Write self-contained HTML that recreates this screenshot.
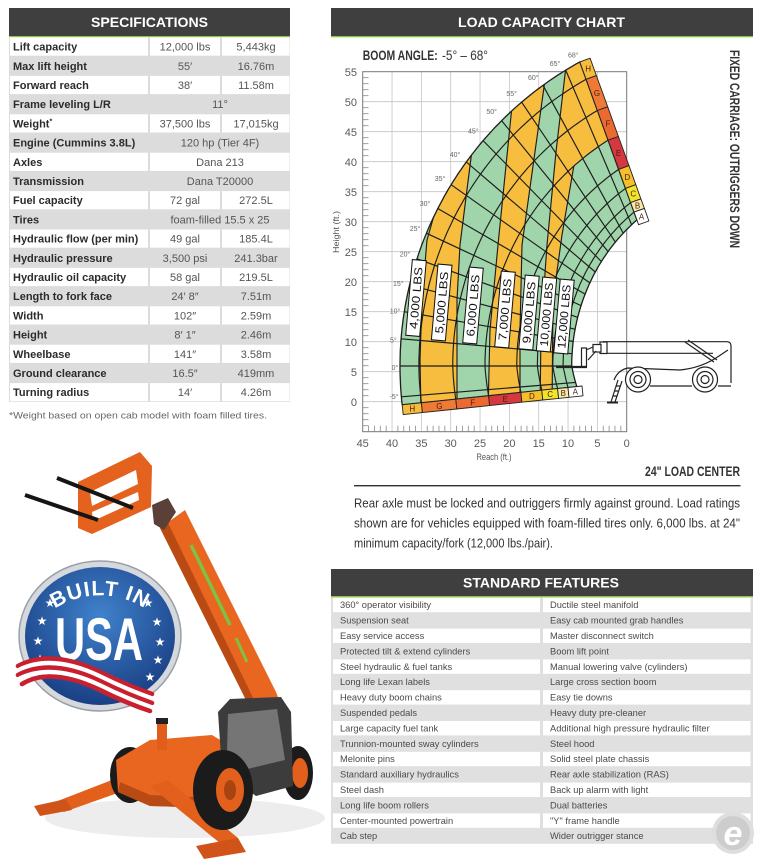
<!DOCTYPE html>
<html><head><meta charset="utf-8">
<style>
html,body{margin:0;padding:0;background:#fff;}
body{width:760px;height:859px;overflow:hidden;}
svg{display:block;font-family:"Liberation Sans",sans-serif;}
.lb{font-weight:bold;font-size:11px;fill:#2b2b2b;}
.v{font-size:11px;fill:#555;text-anchor:middle;}
.f{font-size:9.3px;fill:#4a4a4a;}
.tk{font-size:11px;fill:#5a5a5a;}
.ang{font-size:7px;fill:#666;text-anchor:middle;}
.lt{font-size:8px;fill:#4a1c10;text-anchor:middle;}
.lbs{font-family:"Liberation Sans Narrow","Liberation Sans",sans-serif;font-size:11.5px;fill:#111;text-anchor:middle;}
.cond{font-family:"Liberation Sans Narrow","Liberation Sans",sans-serif;}
</style></head>
<body>
<svg id="s" width="760" height="859" viewBox="0 0 760 859" xmlns="http://www.w3.org/2000/svg">
<defs>
<clipPath id="fc"><polygon id="fcp" points="0,0"/></clipPath>
<radialGradient id="bg1" cx="0.5" cy="0.35" r="0.7">
<stop offset="0" stop-color="#3f82cc"/><stop offset="1" stop-color="#173a7f"/></radialGradient>
</defs>

<!-- ===== SPECIFICATIONS ===== -->
<rect x="9" y="8" width="281" height="28" fill="#3f3f3f"/>
<rect x="9" y="36" width="281" height="1.3" fill="#8cc63e"/>
<text x="149.5" y="27" fill="#fff" font-weight="bold" font-size="14" text-anchor="middle" textLength="117" lengthAdjust="spacingAndGlyphs">SPECIFICATIONS</text>
<rect x="9" y="37" width="281" height="365" fill="#dcdcdc"/>
<g fill="#fff">
<rect x="10" y="37.5" width="138" height="18.2"/><rect x="150" y="37.5" width="70" height="18.2"/><rect x="222" y="37.5" width="67.5" height="18.2"/>
<rect x="10" y="75.9" width="138" height="18.2"/><rect x="150" y="75.9" width="70" height="18.2"/><rect x="222" y="75.9" width="67.5" height="18.2"/>
<rect x="10" y="114.3" width="138" height="18.2"/><rect x="150" y="114.3" width="70" height="18.2"/><rect x="222" y="114.3" width="67.5" height="18.2"/>
<rect x="10" y="152.7" width="138" height="18.2"/><rect x="150" y="152.7" width="139.5" height="18.2"/>
<rect x="10" y="191.1" width="138" height="18.2"/><rect x="150" y="191.1" width="70" height="18.2"/><rect x="222" y="191.1" width="67.5" height="18.2"/>
<rect x="10" y="229.5" width="138" height="18.2"/><rect x="150" y="229.5" width="70" height="18.2"/><rect x="222" y="229.5" width="67.5" height="18.2"/>
<rect x="10" y="267.9" width="138" height="18.2"/><rect x="150" y="267.9" width="70" height="18.2"/><rect x="222" y="267.9" width="67.5" height="18.2"/>
<rect x="10" y="306.3" width="138" height="18.2"/><rect x="150" y="306.3" width="70" height="18.2"/><rect x="222" y="306.3" width="67.5" height="18.2"/>
<rect x="10" y="344.7" width="138" height="18.2"/><rect x="150" y="344.7" width="70" height="18.2"/><rect x="222" y="344.7" width="67.5" height="18.2"/>
<rect x="10" y="383.1" width="138" height="18.2"/><rect x="150" y="383.1" width="70" height="18.2"/><rect x="222" y="383.1" width="67.5" height="18.2"/>
</g>
<g>
<text class="lb" x="13" y="50.6">Lift capacity</text><text class="v" x="185" y="50.6">12,000 lbs</text><text class="v" x="256" y="50.6">5,443kg</text>
<text class="lb" x="13" y="69.8">Max lift height</text><text class="v" x="185" y="69.8">55′</text><text class="v" x="256" y="69.8">16.76m</text>
<text class="lb" x="13" y="89">Forward reach</text><text class="v" x="185" y="89">38′</text><text class="v" x="256" y="89">11.58m</text>
<text class="lb" x="13" y="108.2">Frame leveling L/R</text><text class="v" x="220" y="108.2">11°</text>
<text class="lb" x="13" y="127.4">Weight<tspan font-size="7" dy="-4">*</tspan></text><text class="v" x="185" y="127.4">37,500 lbs</text><text class="v" x="256" y="127.4">17,015kg</text>
<text class="lb" x="13" y="146.6">Engine (Cummins 3.8L)</text><text class="v" x="220" y="146.6">120 hp (Tier 4F)</text>
<text class="lb" x="13" y="165.8">Axles</text><text class="v" x="220" y="165.8">Dana 213</text>
<text class="lb" x="13" y="185">Transmission</text><text class="v" x="220" y="185">Dana T20000</text>
<text class="lb" x="13" y="204.2">Fuel capacity</text><text class="v" x="185" y="204.2">72 gal</text><text class="v" x="256" y="204.2">272.5L</text>
<text class="lb" x="13" y="223.4">Tires</text><text class="v" x="220" y="223.4">foam-filled 15.5 x 25</text>
<text class="lb" x="13" y="242.6">Hydraulic flow (per min)</text><text class="v" x="185" y="242.6">49 gal</text><text class="v" x="256" y="242.6">185.4L</text>
<text class="lb" x="13" y="261.8">Hydraulic pressure</text><text class="v" x="185" y="261.8">3,500 psi</text><text class="v" x="256" y="261.8">241.3bar</text>
<text class="lb" x="13" y="281">Hydraulic oil capacity</text><text class="v" x="185" y="281">58 gal</text><text class="v" x="256" y="281">219.5L</text>
<text class="lb" x="13" y="300.2">Length to fork face</text><text class="v" x="185" y="300.2">24′ 8″</text><text class="v" x="256" y="300.2">7.51m</text>
<text class="lb" x="13" y="319.4">Width</text><text class="v" x="185" y="319.4">102″</text><text class="v" x="256" y="319.4">2.59m</text>
<text class="lb" x="13" y="338.6">Height</text><text class="v" x="185" y="338.6">8′ 1″</text><text class="v" x="256" y="338.6">2.46m</text>
<text class="lb" x="13" y="357.8">Wheelbase</text><text class="v" x="185" y="357.8">141″</text><text class="v" x="256" y="357.8">3.58m</text>
<text class="lb" x="13" y="377">Ground clearance</text><text class="v" x="185" y="377">16.5″</text><text class="v" x="256" y="377">419mm</text>
<text class="lb" x="13" y="396.2">Turning radius</text><text class="v" x="185" y="396.2">14′</text><text class="v" x="256" y="396.2">4.26m</text>
</g>
<text x="9" y="418.5" font-size="9.5" fill="#666" textLength="258" lengthAdjust="spacingAndGlyphs">*Weight based on open cab model with foam filled tires.</text>

<!-- ===== LOAD CAPACITY CHART ===== -->
<rect x="331" y="8" width="422" height="28" fill="#3f3f3f"/>
<rect x="331" y="36" width="422" height="1.3" fill="#8cc63e"/>
<text x="541.5" y="27" fill="#fff" font-weight="bold" font-size="14" text-anchor="middle" textLength="167" lengthAdjust="spacingAndGlyphs">LOAD CAPACITY CHART</text>

<text class="cond" x="362.7" y="60" font-size="14" font-weight="bold" fill="#333" textLength="75" lengthAdjust="spacingAndGlyphs">BOOM ANGLE:</text>
<text class="cond" x="442" y="60" font-size="14" fill="#333" textLength="46" lengthAdjust="spacingAndGlyphs">-5° – 68°</text>

<g id="grid" stroke="#c4c4c4" stroke-width="0.8"></g>
<rect x="362.7" y="71.7" width="264" height="360" fill="none" stroke="#777" stroke-width="1"/>
<g id="ticks" stroke="#888" stroke-width="0.8"></g>
<g class="tk" text-anchor="end">
<text x="357" y="76">55</text><text x="357" y="106">50</text><text x="357" y="136">45</text><text x="357" y="166">40</text>
<text x="357" y="196">35</text><text x="357" y="226">30</text><text x="357" y="256">25</text><text x="357" y="286">20</text>
<text x="357" y="316">15</text><text x="357" y="346">10</text><text x="357" y="376">5</text><text x="357" y="406">0</text>
</g>
<g class="tk" text-anchor="middle">
<text x="362.7" y="447">45</text><text x="392" y="447">40</text><text x="421.4" y="447">35</text><text x="450.7" y="447">30</text>
<text x="480" y="447">25</text><text x="509.4" y="447">20</text><text x="538.7" y="447">15</text><text x="568" y="447">10</text>
<text x="597.4" y="447">5</text><text x="626.7" y="447">0</text>
</g>
<text x="494" y="460" font-size="9" fill="#555" text-anchor="middle" textLength="35" lengthAdjust="spacingAndGlyphs">Reach (ft.)</text>
<text transform="translate(339,232) rotate(-90)" x="0" y="0" font-size="8" fill="#555" text-anchor="middle" textLength="42" lengthAdjust="spacingAndGlyphs">Height (ft.)</text>

<g id="fan"></g>

<g class="lt">
<text x="412.3" y="411.6">H</text><text x="439.4" y="408.8">G</text><text x="472.7" y="405.3">F</text><text x="505.3" y="401.8">E</text>
<text x="531.9" y="399.1">D</text><text x="550.2" y="397.1">C</text><text x="563.3" y="395.8">B</text><text x="575.3" y="394.5">A</text>
<text x="588.1" y="71.6">H</text><text x="597" y="96">G</text><text x="607.9" y="126.3">F</text><text x="618.6" y="155.8">E</text>
<text x="627.3" y="179.9">D</text><text x="633.3" y="196.4">C</text><text x="637.6" y="208.3">B</text><text x="641.6" y="219.4">A</text>
</g>

<g class="ang">
<text x="573.3" y="57.5">68°</text><text x="555" y="65.8">65°</text><text x="533.3" y="79.8">60°</text><text x="511.7" y="95.8">55°</text>
<text x="491.7" y="114.2">50°</text><text x="473.3" y="133.5">45°</text><text x="455" y="156.8">40°</text><text x="440" y="180.8">35°</text>
<text x="425" y="205.8">30°</text><text x="415" y="230.8">25°</text><text x="405" y="256.5">20°</text><text x="398.3" y="285.8">15°</text>
<text x="395" y="313.5">10°</text><text x="393.3" y="342.5">5°</text><text x="395" y="370.2">0°</text><text x="394" y="399.2">-5°</text>
</g>

<g>
<g transform="translate(416,298) rotate(5)"><rect x="-7" y="-38" width="14" height="76" fill="#fff" stroke="#111" stroke-width="1"/><text class="lbs" transform="rotate(-90)" x="0" y="4" textLength="62" lengthAdjust="spacingAndGlyphs">4,000 LBS</text></g>
<g transform="translate(441.7,302.5) rotate(5)"><rect x="-7" y="-38" width="14" height="76" fill="#fff" stroke="#111" stroke-width="1"/><text class="lbs" transform="rotate(-90)" x="0" y="4" textLength="62" lengthAdjust="spacingAndGlyphs">5,000 LBS</text></g>
<g transform="translate(473,305.5) rotate(5)"><rect x="-7" y="-38" width="14" height="76" fill="#fff" stroke="#111" stroke-width="1"/><text class="lbs" transform="rotate(-90)" x="0" y="4" textLength="62" lengthAdjust="spacingAndGlyphs">6,000 LBS</text></g>
<g transform="translate(505,309.5) rotate(5)"><rect x="-7" y="-38" width="14" height="76" fill="#fff" stroke="#111" stroke-width="1"/><text class="lbs" transform="rotate(-90)" x="0" y="4" textLength="62" lengthAdjust="spacingAndGlyphs">7,000 LBS</text></g>
<g transform="translate(529,312.5) rotate(5)"><rect x="-7" y="-37" width="14" height="74" fill="#fff" stroke="#111" stroke-width="1"/><text class="lbs" transform="rotate(-90)" x="0" y="4" textLength="62" lengthAdjust="spacingAndGlyphs">9,000 LBS</text></g>
<g transform="translate(546.5,314.5) rotate(5)"><rect x="-7" y="-37" width="14" height="74" fill="#fff" stroke="#111" stroke-width="1"/><text class="lbs" transform="rotate(-90)" x="0" y="4" textLength="64" lengthAdjust="spacingAndGlyphs">10,000 LBS</text></g>
<g transform="translate(564,316.5) rotate(5)"><rect x="-7" y="-37" width="14" height="74" fill="#fff" stroke="#111" stroke-width="1"/><text class="lbs" transform="rotate(-90)" x="0" y="4" textLength="64" lengthAdjust="spacingAndGlyphs">12,000 LBS</text></g>
</g>

<g fill="none" stroke="#222" stroke-width="1.2">
<path d="M603,341.7 H727 Q731,342 731,346 V383"/>
<path d="M606,353.3 H713"/>
<rect x="600" y="342" width="7" height="11.5" fill="#fff"/>
<rect x="593" y="344.5" width="8" height="7.5" fill="#fff"/>
<path d="M593,347 L586,350 M588,360 L596,351"/>
<rect x="581.5" y="348" width="5" height="18.5" fill="#fff"/>
<path d="M556,367 H587" stroke-width="2.2"/>
<path d="M614,380 Q618,370 628,368 L680,370 Q700,368 716,358 L728,350"/>
<path d="M650,386 L692,386 M718,386 L731,386"/>
<path d="M685,342 L714,362 M688,340 L717,360"/>
<circle cx="638" cy="379.5" r="12.5" fill="#fff"/><circle cx="638" cy="379.5" r="8"/><circle cx="638" cy="379.5" r="4"/>
<circle cx="705" cy="379.5" r="12.5" fill="#fff"/><circle cx="705" cy="379.5" r="8"/><circle cx="705" cy="379.5" r="4"/>
<path d="M618,380 L611,402 M622,381 L615,402 M620,386 L616,386 M618,391 L614,391 M617,396 L613,396"/>
<path d="M607,402.5 H618" stroke-width="2"/>
</g>

<text class="cond" transform="translate(730,50) rotate(90)" x="0" y="0" font-size="14" font-weight="bold" fill="#333" textLength="198" lengthAdjust="spacingAndGlyphs">FIXED CARRIAGE: OUTRIGGERS DOWN</text>

<text class="cond" x="740" y="476" font-size="14" font-weight="bold" fill="#333" text-anchor="end" textLength="95" lengthAdjust="spacingAndGlyphs">24" LOAD CENTER</text>
<rect x="354" y="485" width="386.5" height="1.4" fill="#333"/>
<g class="cond" font-size="13" fill="#333">
<text x="354" y="507.7" textLength="386" lengthAdjust="spacingAndGlyphs">Rear axle must be locked and outriggers firmly against ground. Load ratings</text>
<text x="354" y="527.7" textLength="386" lengthAdjust="spacingAndGlyphs">shown are for vehicles equipped with foam-filled tires only. 6,000 lbs. at 24"</text>
<text x="354" y="547.7" textLength="199" lengthAdjust="spacingAndGlyphs">minimum capacity/fork (12,000 lbs./pair).</text>
</g>

<!-- ===== STANDARD FEATURES ===== -->
<rect x="331" y="569" width="422" height="27" fill="#3f3f3f"/>
<rect x="331" y="596" width="422" height="1.5" fill="#8cc63e"/>
<text x="541" y="587.5" fill="#fff" font-weight="bold" font-size="14" text-anchor="middle" textLength="156" lengthAdjust="spacingAndGlyphs">STANDARD FEATURES</text>
<rect x="331" y="597.3" width="422" height="246.5" fill="#e0e0e0"/>
<g fill="#fff">
<rect x="333" y="597.8" width="207" height="14.4"/><rect x="543" y="597.8" width="207.5" height="14.4"/>
<rect x="333" y="628.6" width="207" height="14.4"/><rect x="543" y="628.6" width="207.5" height="14.4"/>
<rect x="333" y="659.4" width="207" height="14.4"/><rect x="543" y="659.4" width="207.5" height="14.4"/>
<rect x="333" y="690.2" width="207" height="14.4"/><rect x="543" y="690.2" width="207.5" height="14.4"/>
<rect x="333" y="721" width="207" height="14.4"/><rect x="543" y="721" width="207.5" height="14.4"/>
<rect x="333" y="751.8" width="207" height="14.4"/><rect x="543" y="751.8" width="207.5" height="14.4"/>
<rect x="333" y="782.6" width="207" height="14.4"/><rect x="543" y="782.6" width="207.5" height="14.4"/>
<rect x="333" y="813.4" width="207" height="14.4"/><rect x="543" y="813.4" width="207.5" height="14.4"/>
</g>
<g class="f">
<text x="340" y="608.2">360° operator visibility</text><text x="550" y="608.2">Ductile steel manifold</text>
<text x="340" y="623.6">Suspension seat</text><text x="550" y="623.6">Easy cab mounted grab handles</text>
<text x="340" y="639">Easy service access</text><text x="550" y="639">Master disconnect switch</text>
<text x="340" y="654.4">Protected tilt &amp; extend cylinders</text><text x="550" y="654.4">Boom lift point</text>
<text x="340" y="669.8">Steel hydraulic &amp; fuel tanks</text><text x="550" y="669.8">Manual lowering valve (cylinders)</text>
<text x="340" y="685.2">Long life Lexan labels</text><text x="550" y="685.2">Large cross section boom</text>
<text x="340" y="700.6">Heavy duty boom chains</text><text x="550" y="700.6">Easy tie downs</text>
<text x="340" y="716">Suspended pedals</text><text x="550" y="716">Heavy duty pre-cleaner</text>
<text x="340" y="731.4">Large capacity fuel tank</text><text x="550" y="731.4">Additional high pressure hydraulic filter</text>
<text x="340" y="746.8">Trunnion-mounted sway cylinders</text><text x="550" y="746.8">Steel hood</text>
<text x="340" y="762.2">Melonite pins</text><text x="550" y="762.2">Solid steel plate chassis</text>
<text x="340" y="777.6">Standard auxiliary hydraulics</text><text x="550" y="777.6">Rear axle stabilization (RAS)</text>
<text x="340" y="793">Steel dash</text><text x="550" y="793">Back up alarm with light</text>
<text x="340" y="808.4">Long life boom rollers</text><text x="550" y="808.4">Dual batteries</text>
<text x="340" y="823.8">Center-mounted powertrain</text><text x="550" y="823.8">"Y" frame handle</text>
<text x="340" y="839.2">Cab step</text><text x="550" y="839.2">Wider outrigger stance</text>
</g>

<circle cx="733" cy="833" r="21" fill="#dedede"/>
<circle cx="733" cy="833" r="17" fill="#cdcdcd"/>
<text x="733" y="845" font-size="34" font-weight="bold" font-style="italic" fill="#fff" text-anchor="middle">e</text>

<!-- ===== PHOTO ===== -->
<g id="photo">
<ellipse cx="185" cy="818" rx="140" ry="20" fill="#ededed"/>
<polygon points="148,766 160,778 64,812 50,804" fill="#e2601c"/>
<polygon points="34,806 66,799 72,810 40,816" fill="#d0541a"/>
<ellipse cx="130" cy="775" rx="20" ry="28" fill="#1b1b1b"/>
<polygon points="116,760 150,740 212,735 240,752 246,792 215,808 150,806 118,792" fill="#e8661f"/>
<polygon points="118,792 150,806 215,808 215,798 150,795 120,782" fill="#b94a14"/>
<polygon points="150,786 168,780 238,838 226,848" fill="#e2601c"/>
<polygon points="196,846 238,838 246,852 204,859" fill="#d0541a"/>
<rect x="157" y="722" width="10" height="28" fill="#e05d1b"/>
<rect x="156" y="718" width="12" height="6" fill="#222"/>
<ellipse cx="298" cy="773" rx="15" ry="27" fill="#1b1b1b"/>
<ellipse cx="300" cy="773" rx="8" ry="15" fill="#e2601c"/>
<polygon points="160,528 185,510 276,692 286,718 252,712" fill="#e8661f"/>
<polygon points="160,528 168,523 260,712 252,712" fill="#b94a14"/>
<path d="M191,545 L230,625" stroke="#7dc242" stroke-width="3.5"/>
<path d="M236,638 L247,662" stroke="#7dc242" stroke-width="3"/>
<polygon points="152,505 168,498 176,512 164,530 154,524" fill="#5a4036"/>
<polygon points="78,482 140,452 152,466 151,507 92,534 78,528" fill="#e4621d"/>
<polygon points="90,492 136,470 138,484 92,506" fill="#fff"/>
<polygon points="92,512 138,492 139,500 93,521" fill="#fff"/>
<path d="M25,495 L98,520" stroke="#151515" stroke-width="4"/>
<path d="M57,478 L133,508" stroke="#151515" stroke-width="4"/>
<polygon points="218,712 230,699 281,697 291,712 293,786 256,796 222,772" fill="#3c3c3c"/>
<polygon points="228,714 277,709 285,760 243,770 227,752" fill="#757575"/>
<ellipse cx="223" cy="790" rx="30" ry="40" fill="#1b1b1b"/>
<ellipse cx="230" cy="790" rx="14" ry="22" fill="#e2601c"/>
<ellipse cx="230" cy="790" rx="6" ry="10" fill="#a84312"/>
</g>

<g id="badge">
<ellipse cx="100" cy="636" rx="81" ry="75" fill="#d5d8dc" stroke="#9aa0a8" stroke-width="1.5"/>
<ellipse cx="100" cy="636" rx="75" ry="69" fill="url(#bg1)"/>
<path id="arcp" d="M40,621 A83,83 0 0,1 160,621" fill="none"/>
<text font-size="21" font-weight="bold" fill="#fff" letter-spacing="1"><textPath href="#arcp" startOffset="50%" text-anchor="middle">BUILT IN</textPath></text>
<text x="99" y="660" font-size="60" font-weight="bold" fill="#fff" text-anchor="middle" textLength="88" lengthAdjust="spacingAndGlyphs">USA</text>
<g font-size="12" fill="#fff" text-anchor="middle" font-family="DejaVu Sans,sans-serif">
<text x="50" y="607">★</text><text x="42" y="625">★</text><text x="38" y="645">★</text><text x="40" y="663">★</text>
<text x="148" y="607">★</text><text x="157" y="626">★</text><text x="160" y="646">★</text><text x="158" y="664">★</text><text x="150" y="681">★</text>
</g>
<g fill="none" stroke-width="4.6" stroke-linecap="round">
<path d="M18,666 C45,652 75,660 100,672 C120,682 135,688 152,694" stroke="#c8202f"/>
<path d="M18,670.5 C45,656.5 75,664.5 100,676.5 C120,686.5 135,692.5 152,698.5" stroke="#fff"/>
<path d="M18,675 C45,661 75,669 100,681 C120,691 135,697 152,703" stroke="#c8202f"/>
<path d="M18,679.5 C45,665.5 75,673.5 100,685.5 C120,695.5 135,701.5 152,707.5" stroke="#fff"/>
<path d="M22,684 C45,670 75,678 100,690 C120,700 135,706 150,711" stroke="#c8202f"/>
</g>
</g>
</svg>

<script>
(function(){
var NS='http://www.w3.org/2000/svg';
function el(tag,attrs,parent){var e=document.createElementNS(NS,tag);for(var k in attrs)e.setAttribute(k,attrs[k]);parent.appendChild(e);return e;}
function pts(a){return a.map(function(p){return p[0].toFixed(1)+','+p[1].toFixed(1);}).join(' ');}
var grid=document.getElementById('grid');
for(var k=1;k<9;k++){var x=626.7-29.333*k;el('line',{x1:x,y1:71.7,x2:x,y2:431.7},grid);}
for(var k=1;k<12;k++){var y=71.7+30*k;el('line',{x1:362.7,y1:y,x2:626.7,y2:y},grid);}
var tk=document.getElementById('ticks');
for(var h=-4;h<55;h++){if(h%5===0)continue;var y=401.7-6*h;el('line',{x1:362.7,y1:y,x2:368.5,y2:y},tk);}
for(var r=1;r<45;r++){if(r%5===0)continue;var x=626.7-5.8667*r;el('line',{x1:x,y1:431.7,x2:x,y2:425.7},tk);}
var g=document.getElementById('fan');
var cx=747,cy=366,D=Math.PI/180;
function outer(th){var b=(th>=0?0.9*th:1.02*th)*D;return [cx-347*Math.cos(b),cy-347*Math.sin(b)];}
function inner(th){if(th>=0){var b=0.7515*th*D;return [cx-175.3*Math.cos(b),cy-187.6*Math.sin(b)];}
 var b2=th*D;return [cx-175.3*Math.cos(b2)+(-th/6.3)*4,cy-187.6*Math.sin(b2)];}
function P(t,th){var i=inner(th),o=outer(th);return [i[0]+t*(o[0]-i[0]),i[1]+t*(o[1]-i[1])];}
function arc(t,a,b,n){var r=[];for(var i=0;i<=n;i++)r.push(P(t,a+(b-a)*i/n));return r;}
function rad(th,a,b,n){var r=[];for(var i=0;i<=n;i++)r.push(P(a+(b-a)*i/n,th));return r;}
var TB=-6.3,TT=68;
var fan=[].concat(arc(1,TB,TT,90),rad(TT,1,0,4),arc(0,TT,TB,60),rad(TB,0,1,4));
document.getElementById('fcp').setAttribute('points',pts(fan));
el('polygon',{points:pts(fan),fill:'#a0d4aa'},g);
var zg=el('g',{'clip-path':'url(#fc)',fill:'#f6bd3f'},g);
el('polygon',{points:pts([[441,180],[437,205],[427,240],[422,300],[420,360],[421,440],[457,440],[457,300],[460,245],[472,150],[476,125]])},zg);
el('polygon',{points:pts([[516,80],[512,106],[498,245],[490,330],[488,440],[520,440],[520,330],[522,245],[545,80],[550,55]])},zg);
var fe=arc(0.505,57,68,12);
var z10=[[560,40],[566,66],[556,152],[547,245],[541,330],[540,440],[552,440],[552,300],[562,235]].concat(fe).concat([[665,120],[665,40]]);
el('polygon',{points:pts(z10)},zg);
var lg=el('g',{stroke:'#1d1d1d','stroke-width':'1.15',fill:'none','stroke-linejoin':'round'},g);
var lc=el('g',{'clip-path':'url(#fc)'},lg);
for(var th=-5;th<68;th+=5){el('polyline',{points:pts(rad(th,0,1,4))},lg);}
[0.05,0.11,0.2,0.32,0.505,0.693,0.89].forEach(function(t){el('polyline',{points:pts(arc(t,TB,TT,70))},lg);});
[[[437,205],[427,240],[422,300],[420,360],[421,412]],
 [[472,150],[460,245],[457,300],[457,412]],
 [[512,106],[498,245],[490,330],[488,412]],
 [[545,80],[522,245],[520,330],[520,412]],
 [[566,66],[556,152],[547,245],[541,330],[540,412]],
 [fe[0],[562,235],[553,300],[552,412]]].forEach(function(b){el('polyline',{points:pts(b)},lc);});
el('polygon',{points:pts(fan),'stroke-width':'1.3'},lg);
var cells=[['H',0.89,1,'#f5bd3c'],['G',0.693,0.89,'#ee7a35'],['F',0.505,0.693,'#ec6a2f'],['E',0.32,0.505,'#d6383f'],['D',0.2,0.32,'#f5bf2c'],['C',0.11,0.2,'#f2e42a'],['B',0.05,0.11,'#f9e8a8'],['A',-0.03,0.05,'#ffffff']];
var sg=el('g',{stroke:'#222','stroke-width':'0.9','stroke-linejoin':'round'},g);
cells.forEach(function(c){
 var a=c[1],b=c[2];
 var p0=P(a,TB),p1=P(b,TB);
 el('polygon',{points:pts([p0,p1,[p1[0]+1,p1[1]+9.8],[p0[0]+1,p0[1]+9.8]]),fill:c[3]},sg);
 var e0=P(a,TT),e1=P(b,TT);
 el('polygon',{points:pts([e0,e1,[e1[0]+10.3,e1[1]-3.7],[e0[0]+10.3,e0[1]-3.7]]),fill:c[3]},sg);
});
})();
</script>
</body></html>
